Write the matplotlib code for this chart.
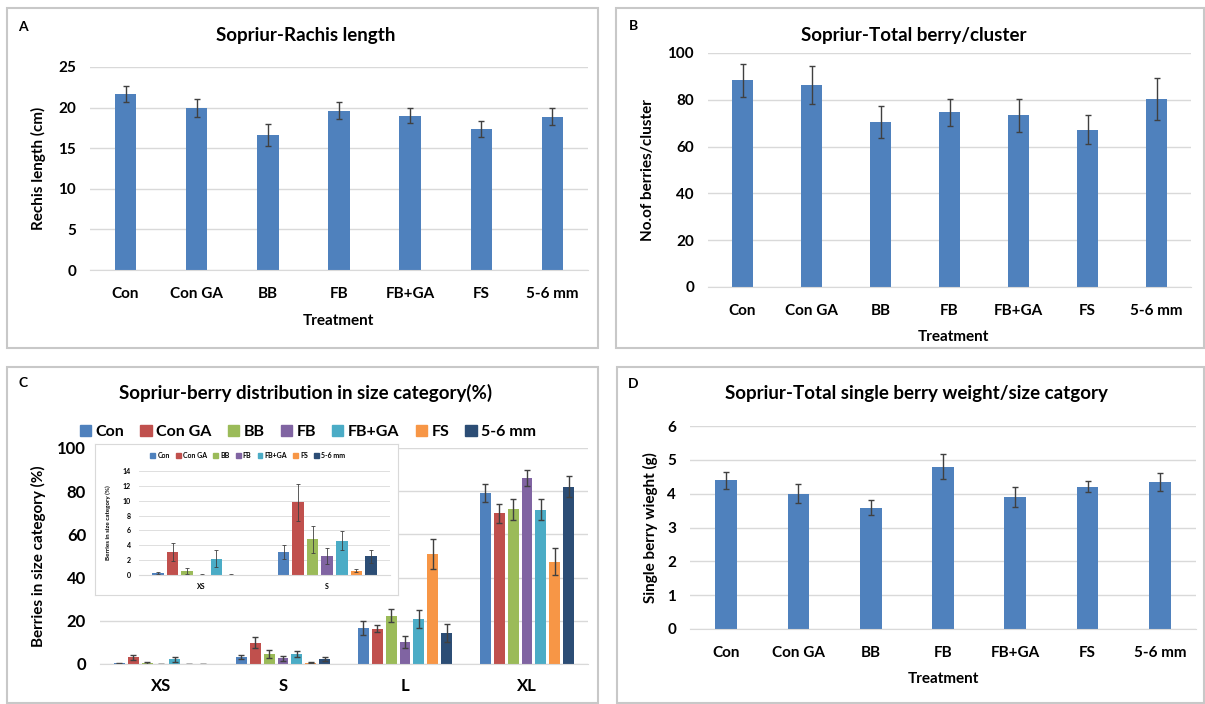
import numpy as np
import matplotlib
matplotlib.use('Agg')
import matplotlib.pyplot as plt
from matplotlib.patches import Rectangle, Patch

plt.rcParams['font.family'] = ['Lato', 'DejaVu Sans']
plt.rcParams['font.weight'] = 'bold'

W, H = 1205, 704

# data
treatments = ['Con', 'Con GA', 'BB', 'FB', 'FB+GA', 'FS', '5-6 mm']
rachis = [21.7, 19.9, 16.6, 19.6, 19.0, 17.4, 18.9]
rachis_err = [1.0, 1.1, 1.35, 1.05, 0.9, 1.0, 1.0]
berries = [88.3, 86.4, 70.6, 74.7, 73.3, 67.3, 80.3]
berries_err = [7.0, 8.1, 6.9, 5.7, 7.0, 6.0, 8.9]
weight = [4.39, 4.0, 3.58, 4.8, 3.9, 4.2, 4.34]
weight_err = [0.24, 0.29, 0.22, 0.36, 0.29, 0.16, 0.26]

sizes = ['XS', 'S', 'L', 'XL']
# rows = treatments, cols = sizes
dist_pct = [[0.25, 3.1, 16.6, 79.2],
            [3.1, 9.8, 16.3, 69.7],
            [0.5, 4.8, 22.3, 71.7],
            [0.05, 2.6, 10.0, 86.3],
            [2.2, 4.6, 20.8, 71.5],
            [0.05, 0.55, 50.9, 47.4],
            [0.0, 2.5, 14.3, 82.0]]
dist_err = [[0.1, 1.0, 3.4, 4.0],
            [1.2, 2.5, 1.7, 4.6],
            [0.4, 1.8, 3.0, 4.9],
            [0.05, 1.1, 2.8, 3.7],
            [1.1, 1.3, 4.0, 5.0],
            [0.05, 0.2, 6.8, 6.1],
            [0.0, 0.9, 4.3, 4.9]]

colors = ['#4F81BD', '#C0504D', '#9BBB59', '#8064A2', '#4BACC6', '#F79646', '#2C4D75']
bar_blue = '#4F81BD'
grid_c = '#D9D9D9'
err_c = '#404040'


def ax_at(l, t, r, b):
    # pixel box -> figure fraction
    return fig.add_axes([l / W, 1 - b / H, (r - l) / W, (b - t) / H])


def txt(x, y, s, **kw):
    fig.text(x / W, 1 - y / H, s, **kw)


def style(ax, fs=11):
    for sp in ['top', 'left', 'right']:
        ax.spines[sp].set_visible(False)
    ax.spines['bottom'].set_color(grid_c)
    ax.yaxis.grid(True, color=grid_c, lw=1)
    ax.set_axisbelow(True)
    ax.tick_params(length=0, labelsize=fs)


def simple_bars(ax, vals, errs, ymax, step):
    x = np.arange(len(treatments))
    ax.bar(x, vals, width=0.3, color=bar_blue)
    ax.errorbar(x, vals, yerr=errs, fmt='none', ecolor=err_c, elinewidth=1, capsize=2.5, capthick=1)
    ax.set_xlim(-0.5, len(treatments) - 0.5)
    ax.set_ylim(0, ymax)
    ax.set_yticks(np.arange(0, ymax + step / 2, step))
    ax.set_xticks(x)
    ax.set_xticklabels(treatments)
    style(ax)
    ax.tick_params(axis='x', pad=12)
    ax.tick_params(axis='y', pad=10)


fig = plt.figure(figsize=(W / 100, H / 100), dpi=100)

# panel frames
for l, t, r, b in [(7, 8, 598, 348), (616, 8, 1204, 348), (7, 367, 598, 703), (617, 367, 1204, 703)]:
    fig.patches.append(Rectangle((l / W, 1 - b / H), (r - l) / W, (b - t) / H,
                                 transform=fig.transFigure, fill=False, ec='#C8C8C8', lw=1.5))

# A
axA = ax_at(90, 67, 588, 270)
simple_bars(axA, rachis, rachis_err, 25, 5)
txt(23, 27, 'A', fontsize=10, ha='center', va='center')
txt(306, 35, 'Sopriur-Rachis length', fontsize=13.5, ha='center', va='center')
txt(38, 168, 'Rechis length (cm)', fontsize=11, rotation=90, ha='center', va='center')
txt(338, 321, 'Treatment', fontsize=11, ha='center', va='center')

# B
axB = ax_at(708, 53, 1191, 287)
simple_bars(axB, berries, berries_err, 100, 20)
txt(633, 26, 'B', fontsize=10, ha='center', va='center')
txt(914, 35, 'Sopriur-Total berry/cluster', fontsize=13.5, ha='center', va='center')
txt(648, 170, 'No.of berries/cluster', fontsize=11, rotation=90, ha='center', va='center')
txt(953, 337, 'Treatment', fontsize=11, ha='center', va='center')

# D
axD = ax_at(690, 426, 1196, 629)
simple_bars(axD, weight, weight_err, 6, 1)
txt(633, 384, 'D', fontsize=10, ha='center', va='center')
txt(916, 393, 'Sopriur-Total single berry weight/size catgory', fontsize=13.5, ha='center', va='center')
txt(650, 528, 'Single berry wieght (g)', fontsize=11, rotation=90, ha='center', va='center')
txt(943, 679, 'Treatment', fontsize=11, ha='center', va='center')


def grouped(ax, ncat, slot, bw, ecap, elw):
    x = np.arange(ncat)
    for i, name in enumerate(treatments):
        v = dist_pct[i][:ncat]
        e = dist_err[i][:ncat]
        pos = x + (i - 3) * slot
        ax.bar(pos, v, width=bw, color=colors[i], label=name)
        ax.errorbar(pos, v, yerr=e, fmt='none', ecolor=err_c, elinewidth=elw, capsize=ecap, capthick=elw)
    ax.set_xlim(-0.5, ncat - 0.5)
    ax.set_xticks(x)
    ax.set_xticklabels(sizes[:ncat])


# C
axC = ax_at(100, 448, 588, 664)
grouped(axC, 4, 0.114, 0.09, 2.0, 1)
axC.set_ylim(0, 100)
axC.set_yticks(np.arange(0, 101, 20))
style(axC, fs=12)
axC.tick_params(axis='x', pad=10)
axC.tick_params(axis='y', pad=10)
txt(23, 383, 'C', fontsize=10, ha='center', va='center')
txt(306, 393, 'Sopriur-berry distribution in size category(%)', fontsize=13.5, ha='center', va='center')
txt(38, 556, 'Berries in size category (%)', fontsize=11, rotation=90, ha='center', va='center')
handles = [Patch(color=c) for c in colors]
fig.legend(handles, treatments, loc='center', bbox_to_anchor=(308 / W, 1 - 432 / H), ncol=7,
           frameon=False, fontsize=11.5, handlelength=0.7, handleheight=0.7, handletextpad=0.3,
           columnspacing=1.0)

# inset box
box = ax_at(95, 444, 398, 595)
box.set_xticks([])
box.set_yticks([])
for sp in box.spines.values():
    sp.set_color(grid_c)

axI = ax_at(139, 471, 390, 575)
grouped(axI, 2, 0.116, 0.092, 1.2, 0.6)
axI.set_ylim(0, 14)
axI.set_yticks(np.arange(0, 15, 2))
style(axI, fs=5)
axI.yaxis.grid(True, color=grid_c, lw=0.6)
axI.tick_params(axis='x', pad=6)
axI.tick_params(axis='y', pad=6)
txt(108, 523, 'Berries in size category (%)', fontsize=4.5, rotation=90, ha='center', va='center')
axI.legend(handles, treatments, loc='center', bbox_to_anchor=(248 / W, 1 - 455 / H),
           bbox_transform=fig.transFigure, ncol=7, frameon=False, fontsize=5,
           handlelength=0.7, handleheight=0.7, handletextpad=0.3, columnspacing=0.9)

fig.savefig('out.png', dpi=100)
